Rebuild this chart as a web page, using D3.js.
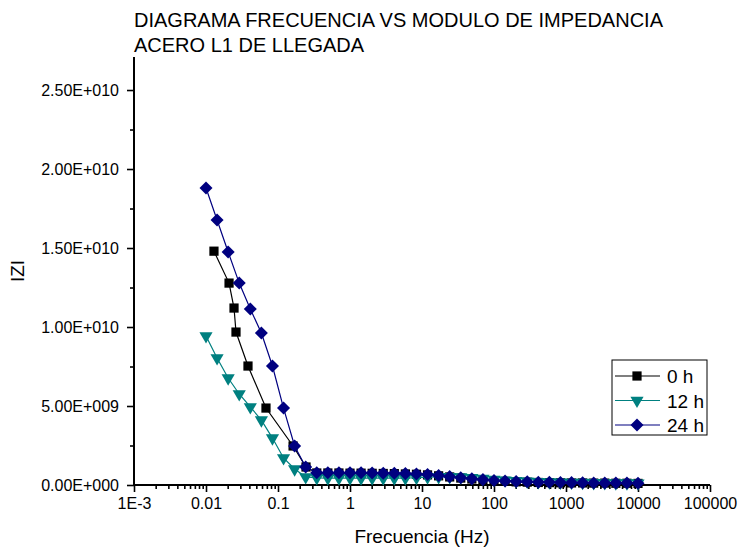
<!DOCTYPE html>
<html>
<head>
<meta charset="utf-8">
<script src="https://cdn.jsdelivr.net/npm/d3@7/dist/d3.min.js"></script>
<style>
  body { margin: 0; background: #fff; }
  svg { font-family: "Liberation Sans", Arial, sans-serif; }
</style>
</head>
<body>
<div id="chart"></div>
<script>
// frequency grid shared by 12 h and 24 h (Hz)
const freqs = [0.01, 0.01425, 0.02031, 0.02894, 0.04125, 0.05878, 0.08377, 0.1194, 0.1701, 0.2424,
  0.3455, 0.4924, 0.7017, 1, 1.425, 2.031, 2.894, 4.125, 5.878, 8.377,
  11.94, 17.01, 24.24, 34.55, 49.24, 70.17, 100, 142.5, 203.1, 289.4,
  412.5, 587.8, 837.7, 1194, 1701, 2424, 3455, 4924, 7017, 10000];

// 0 h has its own low-frequency points
const freqs0 = [0.0129, 0.0209, 0.0245, 0.0261, 0.0383, 0.0681, 0.162, 0.245,
  0.3455, 0.4924, 0.7017, 1, 1.425, 2.031, 2.894, 4.125, 5.878, 8.377,
  11.94, 17.01, 24.24, 34.55, 49.24, 70.17, 100, 142.5, 203.1, 289.4,
  412.5, 587.8, 837.7, 1194, 1701, 2424, 3455, 4924, 7017, 10000];

const z0h = [1.48e10, 1.278e10, 1.12e10, 9.68e9, 7.53e9, 4.87e9, 2.47e9, 1.14e9,
  7.6e8, 7.6e8, 7.6e8, 7.5e8, 7.5e8, 7.4e8, 7.3e8, 7.2e8, 7.0e8, 6.8e8,
  6.4e8, 5.8e8, 5.1e8, 4.4e8, 3.8e8, 3.2e8, 2.7e8, 2.3e8, 2.0e8, 1.8e8,
  1.6e8, 1.5e8, 1.4e8, 1.3e8, 1.3e8, 1.2e8, 1.2e8, 1.1e8, 1.1e8, 1.0e8];

const z12h = [9.43e9, 8.04e9, 6.77e9, 5.76e9, 4.94e9, 4.11e9, 2.97e9, 1.71e9, 1.01e9, 5.1e8,
  4.5e8, 4.4e8, 4.4e8, 4.4e8, 4.3e8, 4.3e8, 4.3e8, 4.3e8, 4.4e8, 4.6e8,
  4.9e8, 5.1e8, 5.2e8, 5.0e8, 4.6e8, 4.1e8, 3.5e8, 3.0e8, 2.6e8, 2.3e8,
  2.0e8, 1.8e8, 1.7e8, 1.6e8, 1.5e8, 1.4e8, 1.3e8, 1.2e8, 1.2e8, 1.1e8];

const z24h = [1.88e10, 1.677e10, 1.475e10, 1.278e10, 1.114e10, 9.62e9, 7.53e9, 4.87e9, 2.47e9, 1.14e9,
  7.8e8, 7.8e8, 7.8e8, 7.7e8, 7.7e8, 7.6e8, 7.5e8, 7.4e8, 7.2e8, 7.0e8,
  6.6e8, 6.0e8, 5.3e8, 4.6e8, 4.0e8, 3.4e8, 2.9e8, 2.5e8, 2.2e8, 2.0e8,
  1.8e8, 1.7e8, 1.6e8, 1.5e8, 1.4e8, 1.3e8, 1.3e8, 1.2e8, 1.2e8, 1.1e8];

const xTicks = [0.001, 0.01, 0.1, 1, 10, 100, 1000, 10000, 100000];
const xTickLabels = ["1E-3", "0.01", "0.1", "1", "10", "100", "1000", "10000", "100000"];
const yTicks = [0, 5e9, 1e10, 1.5e10, 2e10, 2.5e10];
const yTickLabels = ["0.00E+000", "5.00E+009", "1.00E+010", "1.50E+010", "2.00E+010", "2.50E+010"];

const width = 738, height = 553;
const plot = { left: 134, right: 710, top: 57, bottom: 485 };

const svg = d3.select("#chart").append("svg")
  .attr("width", width)
  .attr("height", height);

// scales
const x = d3.scaleLog().domain([0.001, 100000]).range([plot.left, plot.right]);
const y = d3.scaleLinear().domain([0, 2.709e10]).range([plot.bottom, plot.top]);

// minor ticks
const xMinor = [];
for (let d = 0.001; d < 100000; d *= 10) {
  for (let m = 2; m <= 9; m++) xMinor.push(d * m);
}
const yMinor = [2.5e9, 7.5e9, 1.25e10, 1.75e10, 2.25e10];

// title
const title = svg.append("g").attr("font-size", 20).attr("fill", "#000");
title.append("text").attr("x", plot.left).attr("y", 27).text("DIAGRAMA FRECUENCIA VS MODULO DE IMPEDANCIA");
title.append("text").attr("x", plot.left).attr("y", 52).text("ACERO L1 DE LLEGADA");

// x axis
const xAxis = svg.append("g")
  .attr("transform", `translate(0,${plot.bottom})`)
  .call(d3.axisBottom(x).tickValues(xTicks).tickFormat((d, i) => xTickLabels[i]).tickSize(7).tickPadding(6));
svg.append("g")
  .attr("transform", `translate(0,${plot.bottom})`)
  .call(d3.axisBottom(x).tickValues(xMinor).tickFormat("").tickSize(4))
  .call(g => g.select(".domain").remove());

// y axis
const yAxis = svg.append("g")
  .attr("transform", `translate(${plot.left},0)`)
  .call(d3.axisLeft(y).tickValues(yTicks).tickFormat((d, i) => yTickLabels[i]).tickSize(7).tickPadding(8));
svg.append("g")
  .attr("transform", `translate(${plot.left},0)`)
  .call(d3.axisLeft(y).tickValues(yMinor).tickFormat("").tickSize(4))
  .call(g => g.select(".domain").remove());

svg.selectAll(".domain").attr("stroke", "#000").attr("stroke-width", 2);
svg.selectAll(".tick line").attr("stroke", "#000").attr("stroke-width", 1.6);
svg.selectAll(".tick text")
  .attr("font-family", "'Liberation Sans', Arial, sans-serif")
  .attr("font-size", 16)
  .attr("fill", "#000");
yAxis.selectAll(".domain").attr("d", `M0,${plot.bottom}V${plot.top}`);
xAxis.selectAll(".domain").attr("d", `M${plot.left},0H${plot.right}`);

// axis titles
svg.append("text")
  .attr("x", (plot.left + plot.right) / 2)
  .attr("y", 543)
  .attr("text-anchor", "middle")
  .attr("font-size", 19)
  .text("Frecuencia (Hz)");
svg.append("text")
  .attr("transform", `translate(24,${(plot.top + plot.bottom) / 2}) rotate(-90)`)
  .attr("text-anchor", "middle")
  .attr("font-size", 19)
  .text("IZI");

// series
const series = [
  { name: "0 h", f: freqs0, z: z0h, color: "#000000", symbol: d3.symbolSquare, size: 85, rotate: 0 },
  { name: "12 h", f: freqs, z: z12h, color: "#008080", symbol: d3.symbolTriangle, size: 75, rotate: 180 },
  { name: "24 h", f: freqs, z: z24h, color: "#000080", symbol: d3.symbolSquare, size: 85, rotate: 45 }
];

const line = d3.line().x(d => x(d[0])).y(d => y(d[1]));

series.forEach(s => {
  const pts = s.f.map((f, i) => [f, s.z[i]]);
  const g = svg.append("g");
  g.append("path")
    .attr("d", line(pts))
    .attr("fill", "none")
    .attr("stroke", s.color)
    .attr("stroke-width", 1.2);
  g.selectAll("path.pt")
    .data(pts)
    .enter()
    .append("path")
    .attr("class", "pt")
    .attr("d", d3.symbol().type(s.symbol).size(s.size))
    .attr("transform", d => `translate(${x(d[0])},${y(d[1])}) rotate(${s.rotate})`)
    .attr("fill", s.color);
});

// legend
const legend = svg.append("g");
legend.append("rect")
  .attr("x", 612).attr("y", 360)
  .attr("width", 95).attr("height", 75)
  .attr("fill", "#fff")
  .attr("stroke", "#000")
  .attr("stroke-width", 1);
series.forEach((s, i) => {
  const ly = 376 + i * 24.5;
  legend.append("line")
    .attr("x1", 615).attr("x2", 660)
    .attr("y1", ly).attr("y2", ly)
    .attr("stroke", s.color)
    .attr("stroke-width", 1.2);
  legend.append("path")
    .attr("d", d3.symbol().type(s.symbol).size(s.size))
    .attr("transform", `translate(637,${ly}) rotate(${s.rotate})`)
    .attr("fill", s.color);
  legend.append("text")
    .attr("x", 667).attr("y", ly + 7)
    .attr("font-size", 19)
    .text(s.name);
});
</script>
</body>
</html>
